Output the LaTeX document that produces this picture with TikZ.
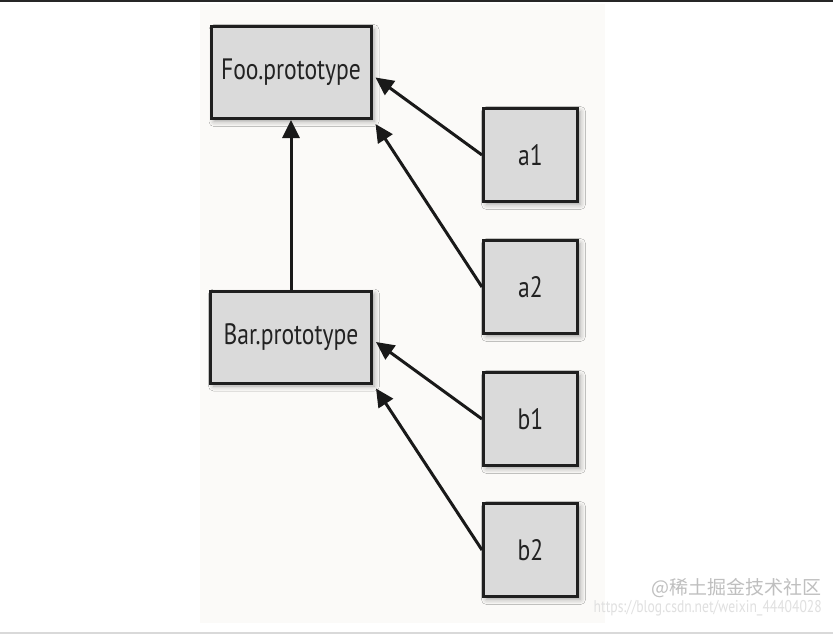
\documentclass[tikz,border=0pt]{standalone}
\usepackage{fontspec}
\setmainfont{PT Sans}[FakeStretch=0.8]
\newfontfamily\cjk{Noto Sans CJK SC}
\usetikzlibrary{arrows.meta,shadows.blur}
\definecolor{bc}{RGB}{218,218,218}
\definecolor{tc}{RGB}{34,34,34}
\definecolor{pc}{RGB}{251,250,248}
\tikzset{pb/.style={draw=black!88,fill=bc,line width=3pt,text=tc,minimum width=160pt,minimum height=92pt,
  font=\fontsize{29.5}{32}\selectfont,blur shadow={shadow xshift=3pt,shadow yshift=-3pt,shadow blur radius=5pt,shadow opacity=35}},
 ob/.style={pb,minimum width=94pt,minimum height=93pt},
 arr/.style={-{Triangle[length=18pt,width=17pt]},line width=3pt,black!90},
 wm/.style={inner sep=0pt,anchor=east,text=black!25}}
\begin{document}
\begin{tikzpicture}[x=1pt,y=-1pt]
\useasboundingbox[fill=white] (0,0) rectangle (833,635);
\fill[pc] (200,4) rectangle (605,623);
\draw[black!85,line width=1.5pt] (0,.75) -- (833,.75);\draw[black!15,line width=2pt] (0,633) -- (833,633);
\node[pb] (foo) at (291,72.5) {Foo.prototype};\node[pb,minimum width=161pt] (bar) at (291,337) {Bar.prototype};
\node[ob] (a1) at (530.5,155) {a1};\node[ob] (a2) at (530.5,287) {a2};
\node[ob] (b1) at (530.5,419) {b1};\node[ob] (b2) at (530.5,550) {b2};
\draw[arr] (bar.north) -- (foo.south);
\draw[arr] (a1.west) -- ([shift={(3pt,-5pt)}]foo.east);\draw[arr] (a2.west) -- ([shift={(3pt,-4pt)}]foo.south east);
\draw[arr] (b1.west) -- ([shift={(3pt,-5pt)}]bar.east);\draw[arr] (b2.west) -- ([shift={(3pt,-4pt)}]bar.south east);
\node[wm,font=\cjk\fontsize{19}{21}\selectfont] (wm1) at (822,588) {@稀土掘金技术社区};
\node[wm,text=black!12,font=\fontsize{17}{19}\selectfont] (wm2) at (822,608) {https://blog.csdn.net/weixin\_44404028};
\end{tikzpicture}
\end{document}
